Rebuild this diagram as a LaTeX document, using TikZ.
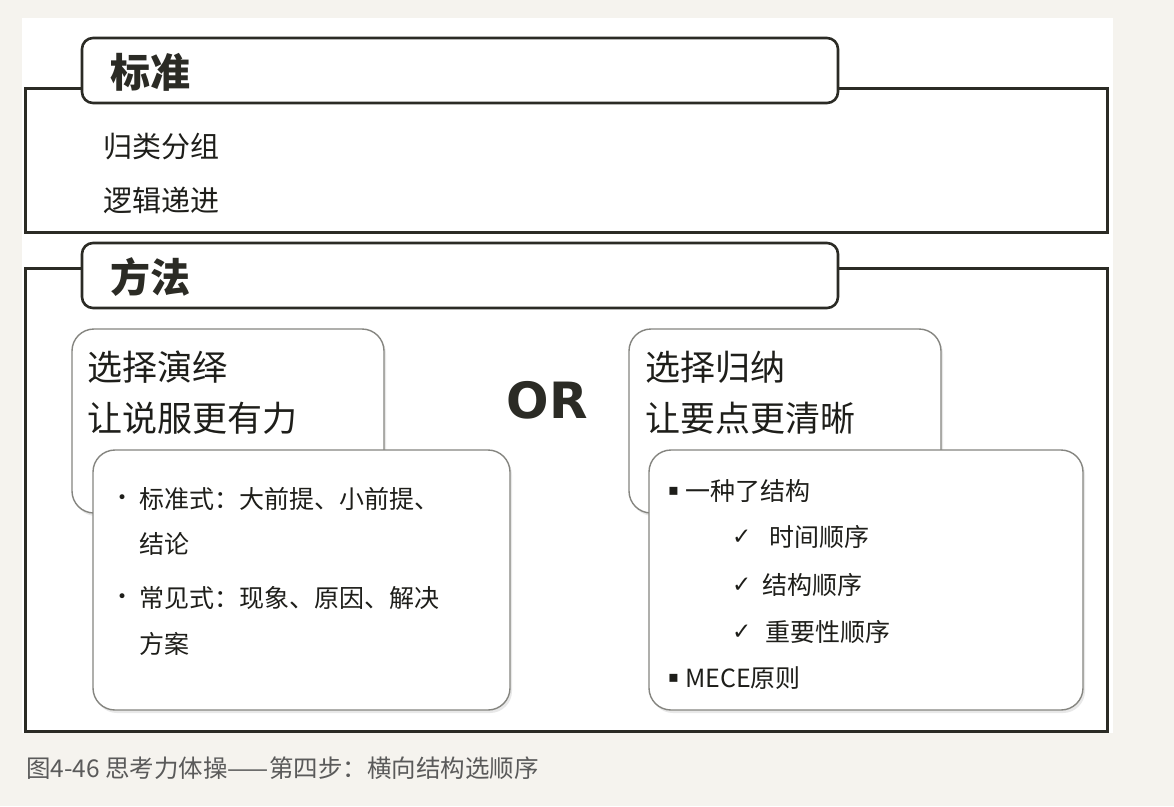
\documentclass[tikz,border=0pt]{standalone}
\usepackage{fontspec}
\usetikzlibrary{shadows}
\newfontfamily\cjk{Noto Sans CJK SC}
\newfontfamily\symf{DejaVu Sans}
\definecolor{bgc}{HTML}{F5F3EE}
\definecolor{framec}{HTML}{2B2B25}
\definecolor{boxc}{HTML}{858580}
\definecolor{txtc}{HTML}{1E1E1A}
\definecolor{capc}{HTML}{5A5A5A}
\tikzset{
  tabbox/.style={draw=framec, line width=2.6pt, fill=white, rounded corners=11pt,
    minimum width=756pt, minimum height=65pt, inner sep=0pt},
  frameline/.style={draw=framec, line width=3pt},
  cardbox/.style={draw=boxc, line width=1.4pt, fill=white, rounded corners=22pt,
    inner sep=0pt, drop shadow={shadow xshift=2pt, shadow yshift=-3pt, opacity=0.18}},
  headtxt/.style={anchor=west, inner sep=0pt, text=framec, font=\cjk\fontsize{40}{48}\selectfont\bfseries},
  plaintxt/.style={anchor=west, inner sep=0pt, text=txtc, font=\cjk\fontsize{29}{35}\selectfont},
  bigtxt/.style={anchor=west, inner sep=0pt, text=txtc, font=\cjk\fontsize{35}{42}\selectfont},
  listtxt/.style={anchor=west, inner sep=0pt, text=txtc, font=\cjk\fontsize{25}{30}\selectfont},
  marktxt/.style={anchor=west, inner sep=0pt, text=txtc, font=\symf\fontsize{23}{27}\selectfont},
  dottxt/.style={anchor=west, inner sep=0pt, text=txtc, font=\symf\fontsize{17}{20}\selectfont},
}
\begin{document}
\begin{tikzpicture}[x=1pt,y=-1pt]
% background and panel
\fill[bgc] (0,0) rectangle (1174,806);
\useasboundingbox (0,0) rectangle (1174,806);
\fill[white] (22,18) rectangle (1113,733);

% ---- section 1: 标准
\coordinate (f1tl) at (25,88);
\coordinate (f1bl) at (25,232);
\coordinate (f1br) at (1107,232);
\coordinate (f1tr) at (1107,88);
\draw[frameline] (460,88) -- (f1tl) -- (f1bl) -- (f1br) -- (f1tr) -- (460,88);
\node[tabbox] (t1) at (460,70.5) {};
\node[headtxt] (h1) at (110,72) {标准};
\node[plaintxt] (s1) at (103,147) {归类分组};
\node[plaintxt] (s2) at (103,200) {逻辑递进};

% ---- section 2: 方法
\coordinate (f2tl) at (25,268);
\coordinate (f2bl) at (25,731);
\coordinate (f2br) at (1107,731);
\coordinate (f2tr) at (1107,268);
\draw[frameline] (460,268) -- (f2tl) -- (f2bl) -- (f2br) -- (f2tr) -- (460,268);
\node[tabbox] (t2) at (460,275.5) {};
\node[headtxt] (h2) at (110,277) {方法};

% left cards
\node[cardbox, minimum width=312pt, minimum height=184pt] (L1) at (228,421) {};
\node[bigtxt] (l1a) at (87,367) {选择演绎};
\node[bigtxt] (l1b) at (87,418) {让说服更有力};
\node[cardbox, minimum width=417pt, minimum height=260pt] (L2) at (301.5,580) {};
\node[dottxt] (lb1) at (117,499) {•};
\node[listtxt] (l2a) at (139,499) {标准式：大前提、小前提、};
\node[listtxt] (l2b) at (139,544) {结论};
\node[dottxt] (lb2) at (117,598) {•};
\node[listtxt] (l2c) at (139,598) {常见式：现象、原因、解决};
\node[listtxt] (l2d) at (139,644) {方案};

% OR
\node[inner sep=0pt, text=framec, font=\symf\fontsize{50}{60}\selectfont\bfseries] (or) at (547,400) {OR};

% right cards
\node[cardbox, minimum width=312pt, minimum height=184pt] (R1) at (785,421) {};
\node[bigtxt] (r1a) at (645,367) {选择归纳};
\node[bigtxt] (r1b) at (645,418) {让要点更清晰};
\node[cardbox, minimum width=434pt, minimum height=260pt] (R2) at (866,580) {};
\node[dottxt, font=\symf\fontsize{16}{20}\selectfont] (rb1) at (668,491) {▪};
\node[listtxt] (r2a) at (685,491) {一种了结构};
\node[marktxt] (c1) at (732,537) {✓};
\node[listtxt] (r2b) at (769,537) {时间顺序};
\node[marktxt] (c2) at (732,585) {✓};
\node[listtxt] (r2c) at (762,585) {结构顺序};
\node[marktxt] (c3) at (732,632) {✓};
\node[listtxt] (r2d) at (765,632) {重要性顺序};
\node[dottxt, font=\symf\fontsize{16}{20}\selectfont] (rb2) at (668,678) {▪};
\node[listtxt] (r2e) at (685,678) {MECE原则};

% caption
\node[anchor=west, inner sep=0pt, text=capc, font=\cjk\fontsize{24.5}{29}\selectfont] (cap) at (26,768) {图4-46 思考力体操——第四步：横向结构选顺序};
\end{tikzpicture}
\end{document}
